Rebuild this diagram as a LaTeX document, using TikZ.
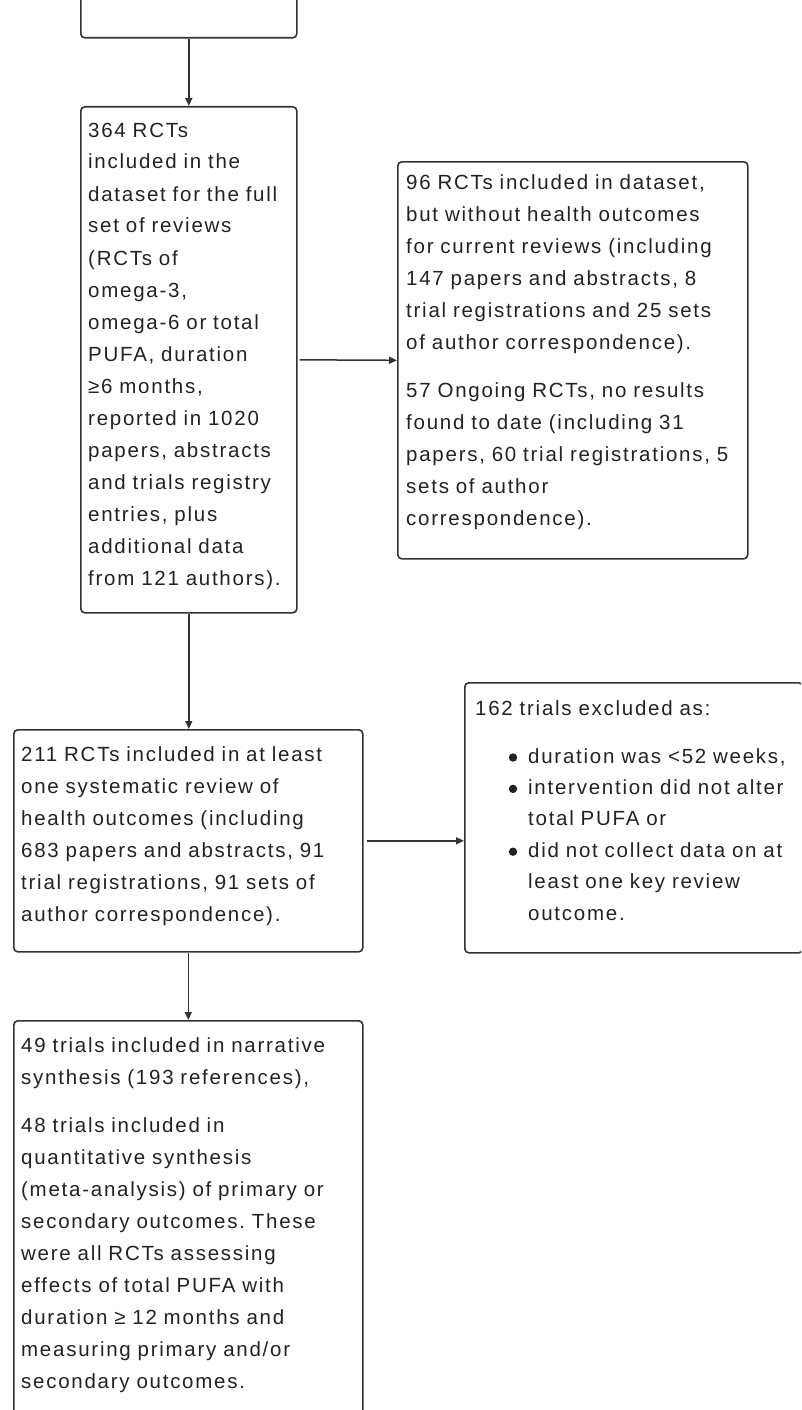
\documentclass[tikz,border=0pt]{standalone}
\usepackage{fontspec}
\newfontfamily\boxfont{Liberation Sans}[LetterSpace=8.5]
\usetikzlibrary{arrows.meta}
\definecolor{linegray}{HTML}{333333}
\definecolor{textgray}{HTML}{222222}
\newcommand\boxtextfont[1]{\boxfont\fontsize{20.5}{#1}\selectfont\frenchspacing}
\begin{document}
\begin{tikzpicture}[x=1pt,y=-1pt,
  box/.style={draw=linegray, line width=1.6pt, rounded corners=4pt, inner sep=0pt, anchor=north west},
  txt/.style={font=\boxtextfont{32}, text=textgray, text width=380pt, align=left, inner sep=0pt, anchor=base west},
  txtb/.style={txt, font=\boxtextfont{31.4}},
  arr/.style={draw=linegray, line width=1.5pt, -{Triangle[length=8pt,width=7pt]}}]
\useasboundingbox (0,0) rectangle (801,1410);
\clip (0,0) rectangle (801,1410);
% boxes
\node[box, minimum width=216pt, minimum height=137pt] (b1) at (80,-100) {};
\node[box, minimum width=216pt, minimum height=506pt] (b2) at (80,106) {};
\node[box, minimum width=350pt, minimum height=397pt] (rb1) at (397,161) {};
\node[box, minimum width=349pt, minimum height=222pt] (b3) at (13,729) {};
\node[box, minimum width=338pt, minimum height=270pt] (rb2) at (464,682) {};
\node[box, minimum width=349pt, minimum height=500pt] (b4) at (13,1020) {};
% texts
\node[txt] (t2) at (88,137) {364 RCTs\\included in the\\dataset for the full\\set of reviews\\(RCTs of\\omega-3,\\omega-6 or total\\PUFA, duration\\≥6 months,\\reported in 1020\\papers, abstracts\\and trials registry\\entries, plus\\additional data\\from 121 authors).};
\node[txt] (tr1) at (406,189) {96 RCTs included in dataset,\\but without health outcomes\\for current reviews (including\\147 papers and abstracts, 8\\trial registrations and 25 sets\\of author correspondence).\\[16pt]57 Ongoing RCTs, no results\\found to date (including 31\\papers, 60 trial registrations, 5\\sets of author\\correspondence).};
\node[txt] (t3) at (21,761) {211 RCTs included in at least\\one systematic review of\\health outcomes (including\\683 papers and abstracts, 91\\trial registrations, 91 sets of\\author correspondence).};
\node[txt] (tr2) at (475,715) {162 trials excluded as:};
\node[txtb] (tr2b) at (528,763) {duration was <52 weeks,\\intervention did not alter\\total PUFA or\\did not collect data on at\\least one key review\\outcome.};
\fill[textgray] (513,757.5) circle (4.2pt);
\fill[textgray] (513,788.9) circle (4.2pt);
\fill[textgray] (513,851.7) circle (4.2pt);
\node[txt] (t4) at (21,1052) {49 trials included in narrative\\synthesis (193 references),\\[16pt]48 trials included in\\quantitative synthesis\\(meta-analysis) of primary or\\secondary outcomes. These\\were all RCTs assessing\\effects of total PUFA with\\duration ≥ 12 months and\\measuring primary and/or\\secondary outcomes.};
% connectors
\draw[arr] (b1.south) -- (b2.north);
\draw[arr, shorten <=2pt] (b2.east) -- (rb1.west);
\draw[arr] (b2.south) -- (b2.south |- b3.north);
\draw[arr, shorten <=3pt] (b3.east) -- (b3.east -| rb2.west);
\draw[arr] (b3.south) -- (b3.south |- b4.north);
\end{tikzpicture}
\end{document}
